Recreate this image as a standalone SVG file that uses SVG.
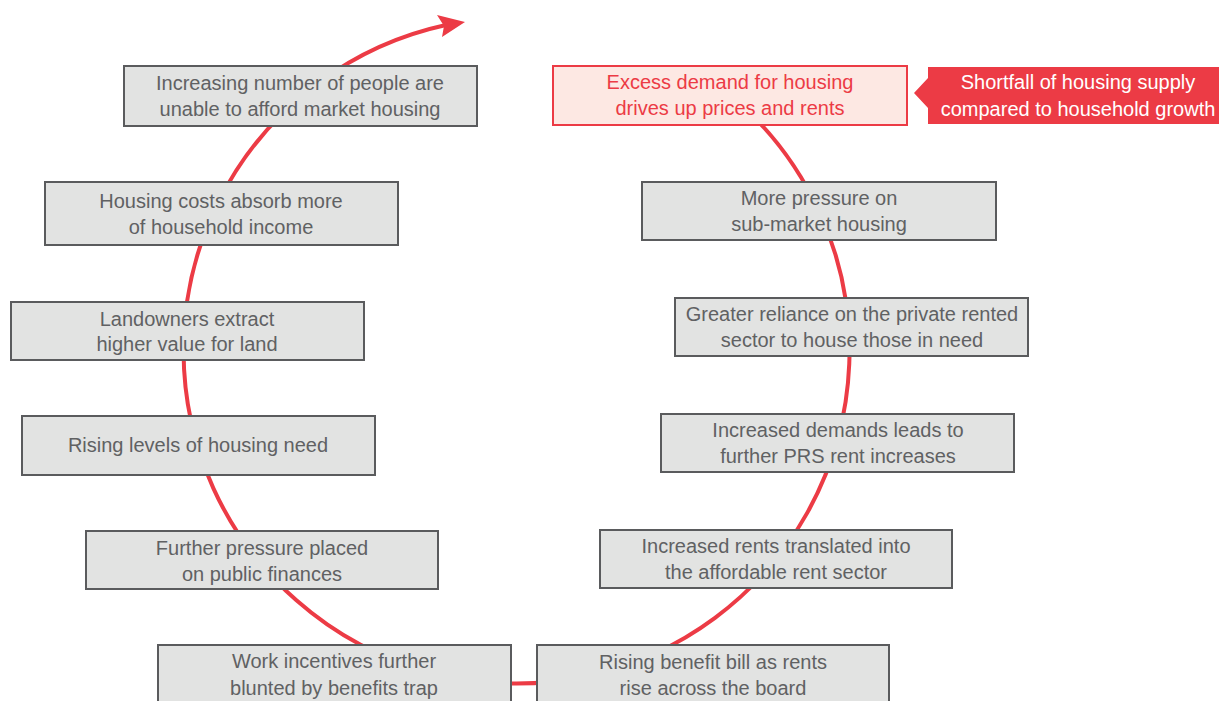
<svg xmlns="http://www.w3.org/2000/svg" width="1219" height="701" viewBox="0 0 1219 701">
<style>
.box rect{fill:#e2e3e2;stroke:#5a5b5d;stroke-width:2}
.box text{font-family:"Liberation Sans",Arial,sans-serif;font-size:20px;fill:#606163;text-anchor:middle}
.hot rect{fill:#fde8e3;stroke:#ec3b45;stroke-width:2}
.hot text{fill:#ec3b45}
.tag text{font-family:"Liberation Sans",Arial,sans-serif;font-size:20px;fill:#ffffff;text-anchor:middle}
.flow{fill:none;stroke:#ec3b45;stroke-width:4}
</style>
<rect width="1219" height="701" fill="#ffffff"/>
<g id="connectors">
<path class="flow" d="M 736 100 A 333 333 0 1 1 446 25"/>
<path d="M 465 22 L 437 15 L 444 26 L 442 37 Z" fill="#ec3b45"/>
</g>
<g id="n1" class="box"><rect x="124" y="66" width="353" height="60"/><text x="300" y="90">Increasing number of people are</text><text x="300" y="116">unable to afford market housing</text></g>
<g id="n2" class="box"><rect x="45" y="182" width="353" height="63"/><text x="221" y="208">Housing costs absorb more</text><text x="221" y="234">of household income</text></g>
<g id="n3" class="box"><rect x="11" y="302" width="353" height="58"/><text x="187" y="326">Landowners extract</text><text x="187" y="351">higher value for land</text></g>
<g id="n4" class="box"><rect x="22" y="416" width="353" height="59"/><text x="198" y="452">Rising levels of housing need</text></g>
<g id="n5" class="box"><rect x="86" y="531" width="352" height="58"/><text x="262" y="555">Further pressure placed</text><text x="262" y="581">on public finances</text></g>
<g id="n6" class="box"><rect x="158" y="645" width="353" height="60"/><text x="334" y="668">Work incentives further</text><text x="334" y="695">blunted by benefits trap</text></g>
<g id="n7" class="box"><rect x="537" y="645" width="352" height="60"/><text x="713" y="669">Rising benefit bill as rents</text><text x="713" y="695">rise across the board</text></g>
<g id="n8" class="box"><rect x="600" y="530" width="352" height="58"/><text x="776" y="553">Increased rents translated into</text><text x="776" y="579">the affordable rent sector</text></g>
<g id="n9" class="box"><rect x="661" y="414" width="353" height="58"/><text x="838" y="437">Increased demands leads to</text><text x="838" y="463">further PRS rent increases</text></g>
<g id="n10" class="box"><rect x="675" y="298" width="353" height="58"/><text x="852" y="321">Greater reliance on the private rented</text><text x="852" y="347">sector to house those in need</text></g>
<g id="n11" class="box"><rect x="642" y="182" width="354" height="58"/><text x="819" y="205">More pressure on</text><text x="819" y="231">sub-market housing</text></g>
<g id="n12" class="box hot"><rect x="553" y="66" width="354" height="59"/><text x="730" y="89">Excess demand for housing</text><text x="730" y="115">drives up prices and rents</text></g>
<g id="n13" class="tag"><path d="M 928 67 L 1219 67 L 1219 124 L 928 124 L 928 108 L 914 93 L 928 78 Z" fill="#ec3b45"/><text x="1078" y="89">Shortfall of housing supply</text><text x="1078" y="116">compared to household growth</text></g>
</svg>
